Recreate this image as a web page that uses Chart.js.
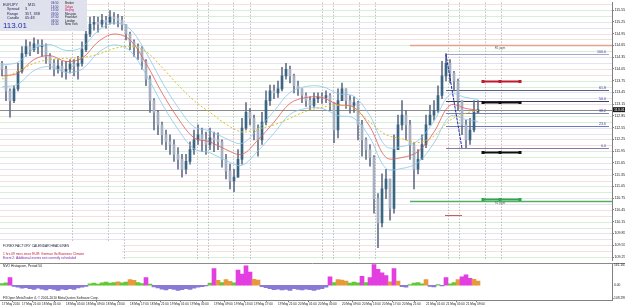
<!DOCTYPE html>
<html>
<head>
<meta charset="utf-8">
<script src="https://cdn.jsdelivr.net/npm/chart.js@4.4.1/dist/chart.umd.min.js"></script>
<style>
html, body { margin: 0; padding: 0; background: #fff; }
#wrap { position: relative; width: 625px; height: 306px; overflow: hidden; }
canvas { position: absolute; left: 0; }
#priceCanvas { top: 0; }
#histCanvas { top: 263px; }
</style>
</head>
<body>
<div id="wrap">
  <canvas id="priceCanvas" width="625" height="263"></canvas>
  <canvas id="histCanvas" width="625" height="43"></canvas>
</div>
<script>
// EURJPY M15, 17-21 May 2010 (one slot = 45 min)
const slotCount = 153;
const firstOpen = 114.19;
const closes = [
  114.04,113.49,113.24,113.54,113.99,114.44,114.62,114.54,114.69,114.62,
  114.64,114.37,114.19,114.04,114.12,113.99,114.04,114.17,114.12,114.19,
  114.54,114.94,115.19,115.24,115.19,115.29,115.24,115.37,115.34,115.29,
  115.19,114.94,114.74,114.62,114.59,114.24,113.79,113.24,112.94,112.62,
  112.37,112.19,112.12,111.87,111.74,111.49,111.69,111.99,112.24,112.37,
  112.24,112.12,112.29,112.24,112.19,111.74,111.44,111.19,111.29,111.74,
  112.54,112.94,112.79,112.49,112.24,112.69,113.24,113.49,113.44,113.54,
  113.87,114.04,113.87,113.62,113.54,113.37,113.24,113.12,113.29,113.34,
  113.32,113.37,113.19,112.49,113.24,113.54,113.24,113.12,113.19,112.62,
  112.24,111.99,111.79,110.74,110.12,110.99,111.24,110.49,111.99,112.62,
  112.87,112.62,112.12,111.49,111.74,112.12,112.62,112.87,112.99,113.37,
  113.87,114.19,113.94,113.74,113.24,112.62,112.24,112.49,112.94,113.01
];
const highs = [
  114.24,114.12,113.54,113.62,114.19,114.62,114.79,114.74,114.84,114.79,
  114.79,114.69,114.44,114.29,114.29,114.24,114.24,114.29,114.29,114.37,
  114.74,115.19,115.37,115.39,115.37,115.44,115.39,115.54,115.49,115.44,
  115.39,115.19,114.99,114.79,114.69,114.62,114.29,113.87,113.29,112.99,
  112.69,112.49,112.37,112.24,112.04,111.87,111.87,112.19,112.49,112.62,
  112.54,112.44,112.54,112.44,112.42,112.24,111.87,111.62,111.49,111.99,
  112.79,113.19,113.04,112.87,112.62,112.94,113.49,113.64,113.64,113.74,
  114.09,114.19,114.12,113.92,113.74,113.54,113.44,113.34,113.44,113.44,
  113.44,113.49,113.42,113.19,113.54,113.69,113.54,113.37,113.34,113.22,
  112.74,112.29,112.12,111.84,110.87,111.37,111.49,111.24,112.37,112.87,
  113.24,112.99,112.74,112.17,111.99,112.37,112.87,113.12,113.24,113.62,
  114.24,114.44,114.29,113.99,113.79,113.24,112.74,112.79,113.24,113.24
];
const lows = [
  113.87,113.24,112.82,113.19,113.49,113.94,114.37,114.39,114.49,114.44,
  114.37,114.19,114.04,113.87,113.94,113.84,113.79,113.94,113.87,113.79,
  114.12,114.49,114.87,115.04,114.99,115.12,115.09,115.19,115.19,115.12,
  115.04,114.79,114.54,114.37,114.29,114.04,113.62,112.94,112.49,112.37,
  112.12,111.99,111.87,111.69,111.49,111.29,111.37,111.62,111.87,112.12,
  111.94,111.87,111.99,111.94,111.99,111.54,111.24,110.99,110.92,111.29,
  111.62,112.49,112.62,112.24,111.82,112.12,112.62,113.12,113.29,113.32,
  113.49,113.79,113.69,113.44,113.37,113.19,113.09,112.99,113.07,113.19,
  113.17,113.19,112.99,112.17,112.29,113.24,113.04,112.92,112.94,112.24,
  111.82,111.74,111.57,110.37,109.49,110.02,110.74,110.19,110.37,111.99,
  112.49,112.24,111.74,110.99,111.37,111.74,112.04,112.62,112.74,112.94,
  113.29,113.74,113.69,113.49,112.99,112.37,112.04,112.12,112.44,112.94
];

// moving averages, read every 4th slot
const maIdx   = [0,4,8,12,16,20,24,28,32,36,40,44,48,52,56,60,64,68,72,76,80,84,88,92,96,100,104,108,112,116,119];
const maRed   = [113.87,113.94,114.29,114.39,114.24,114.32,114.74,114.94,114.79,114.19,113.44,112.79,112.29,112.19,111.99,111.87,112.24,112.69,113.17,113.32,113.32,113.14,113.07,112.57,111.79,111.79,111.94,112.44,113.12,113.04,112.99];
const maUpper = [114.15,114.22,114.57,114.67,114.52,114.60,115.02,115.22,115.07,114.47,113.72,113.07,112.57,112.47,112.27,112.15,112.52,112.97,113.45,113.60,113.60,113.42,113.35,112.85,112.07,112.07,112.22,112.72,113.40,113.32,113.27];
const maLower = [113.59,113.66,114.01,114.11,113.96,114.04,114.46,114.66,114.51,113.91,113.16,112.51,112.01,111.91,111.71,111.59,111.96,112.41,112.89,113.04,113.04,112.86,112.79,112.29,111.51,111.51,111.66,112.16,112.84,112.76,112.71];
const maSlow  = [113.79,113.99,114.19,114.29,114.32,114.34,114.42,114.57,114.62,114.49,114.09,113.64,113.24,112.94,112.64,112.44,112.52,112.62,112.79,112.97,113.07,113.12,113.04,112.69,112.37,112.27,112.17,112.34,112.74,112.92,112.99];

const nvo = [
  12,18,55,-8,-15,-22,-18,-25,-30,-22,
  -28,-35,-25,-30,-38,-28,-32,-25,-30,-20,
  -15,-8,10,15,8,18,22,15,20,25,
  18,22,40,35,20,12,55,8,-12,-20,
  -28,-35,-25,-30,-38,-32,-25,-30,-22,-15,
  -10,-5,15,120,35,20,40,28,18,110,
  80,140,95,42,38,-10,-18,-25,-32,-28,
  -35,-30,-38,-25,-30,-35,-28,-32,-38,-30,
  -25,-15,60,20,40,38,30,15,22,18,
  65,20,55,150,115,90,70,25,120,30,
  -10,-15,5,15,20,10,40,-8,-12,5,
  -6,55,10,20,40,60,75,50,42,30
];
const nvoMax = 161.163;
const nvoMin = -109.298;

const priceTicks = [115.55,115.25,114.95,114.65,114.35,114.05,113.75,113.45,113.15,112.85,112.55,
  112.25,111.95,111.65,111.35,111.05,110.75,110.45,110.15,109.85,109.55,109.25];
const timeIdx = [0,5,10,16,21,26,32,37,42,47,53,58,63,69,74,79,85,90,95,100,106,111,116];
const timeText = ['17 May 2010','17 May 21:00','18 May 01:00','18 May 05:00','18 May 09:00','18 May 13:00',
  '18 May 17:00','18 May 21:00','19 May 01:00','19 May 05:00','19 May 09:00','19 May 13:00','19 May 17:00',
  '19 May 21:00','20 May 01:00','20 May 05:00','20 May 09:00','20 May 13:00','20 May 17:00','20 May 21:00',
  '21 May 01:00','21 May 05:00','21 May 09:00'];

const sessionIdx = [17.5,26.5,30.5,48.75,51.5,57.75,62,80,82.75,89.25,93.25,111.5,114.25,120.75,124.75];
const bidPrice = 113.01;
const fibLevels = [0, 23.6, 38.2, 50, 61.8, 100];
const fibLow = 112.02, fibHigh = 114.42;
const fibHighIdx = 111, fibLowIdx = 115;
const pivotHigh = 114.665, pivotLow = 110.69, pivotFromIdx = 102;
const markerRows = [113.74, 113.20, 111.93, 110.74];
const markerIdx = [120.25, 124.5, 129.5];
const shortLevel = 110.32;

const infoLeft = [['EURJPY', 'M15'], ['Spread', '3'], ['Range', '357, 338'], ['Candle', '05:48']];
const clockTimes = ['06:50','14:50','13:50','09:50','07:50','06:50','01:50'];
const clockCities = ['Broker','Tokyo','Beijing','Moscow','Frankfurt','London','New York'];
const ffLines = ['FOREX FACTORY CALENDAR HEADLINES',
  '1 hrs 09 mins since EUR: German Ifo Business Climate',
  'Event 2: Additional events not currently scheduled'];

// ---------------------------------------------------------------
const FONT = "'Liberation Sans', Arial, sans-serif";
const slots = Array.from({length: slotCount}, (_, i) => '');
const timeSlots = slots.map((s, i) => {
  const k = timeIdx.indexOf(i);
  return k >= 0 ? timeText[k] : '';
});
const opens = closes.map((c, i) => i === 0 ? firstOpen : closes[i - 1]);
const wicks = closes.map((c, i) => [lows[i], highs[i]]);
const bodies = closes.map((c, i) => [Math.min(opens[i], c), Math.max(opens[i], c)]);

function spread(vals) {
  const out = new Array(closes.length).fill(null);
  maIdx.forEach((i, k) => { out[i] = vals[k]; });
  return out;
}
function maLine(vals, color, width, dash) {
  return { type: 'line', data: spread(vals), borderColor: color, borderWidth: width,
    borderDash: dash || [], pointRadius: 0, spanGaps: true, tension: 0.35, order: 0 };
}
function text(ctx, s, x, y, size, color, align, base, weight) {
  ctx.font = (weight || '') + ' ' + size + 'px ' + FONT;
  ctx.fillStyle = color;
  ctx.textAlign = align || 'left';
  ctx.textBaseline = base || 'middle';
  ctx.fillText(s, x, y);
}
function line(ctx, x1, y1, x2, y2, color, w, dash) {
  ctx.strokeStyle = color;
  ctx.lineWidth = w;
  ctx.setLineDash(dash || []);
  ctx.beginPath(); ctx.moveTo(x1, y1); ctx.lineTo(x2, y2); ctx.stroke();
  ctx.setLineDash([]);
}

const guideColors = ['#d9eed9', '#f5e0e0', '#e3e3f3'];
const gridLevels = priceTicks.flatMap(v => [v, v + 0.15]);

const priceOverlay = {
  id: 'priceOverlay',
  beforeDatasetsDraw(chart) {
    const { ctx, chartArea: a } = chart;
    const xs = chart.scales.x, ys = chart.scales.y;
    ctx.save();
    gridLevels.forEach((v, k) => {
      const y = Math.round(ys.getPixelForValue(v)) + 0.5;
      line(ctx, a.left, y, a.right, y, guideColors[k % 3], 1);
    });
    sessionIdx.forEach(i => {
      const x = Math.round(xs.getPixelForValue(i)) + 0.5;
      line(ctx, x, a.top, x, a.bottom, '#a4a4a4', 1, [1, 2]);
    });
    // pivot lines
    const px0 = xs.getPixelForValue(pivotFromIdx);
    let y = Math.round(ys.getPixelForValue(pivotHigh)) + 0.5;
    line(ctx, px0, y, a.right, y, '#e6a38c', 1.5);
    y = Math.round(ys.getPixelForValue(pivotLow)) + 0.5;
    line(ctx, px0, y, a.right, y, '#4fb062', 1.5);
    // fibonacci levels
    const fx = xs.getPixelForValue(fibHighIdx);
    const fibColors = ['#8a7aa8', '#6f78c0', '#7d82b4', '#3c3f5c', '#5c6284', '#a3a8cf'];
    fibLevels.forEach((lv, k) => {
      const p = fibLow + (fibHigh - fibLow) * lv / 100;
      const fy = Math.round(ys.getPixelForValue(p)) + 0.5;
      line(ctx, fx, fy, a.right - 3, fy, fibColors[k], 1);
    });
    // bid line
    y = Math.round(ys.getPixelForValue(bidPrice)) + 0.5;
    line(ctx, a.left, y, a.right, y, '#8c8c8c', 1);
    ctx.restore();
  },
  afterDatasetsDraw(chart) {
    const { ctx, chartArea: a } = chart;
    const xs = chart.scales.x, ys = chart.scales.y;
    ctx.save();
    // fib anchor line
    line(ctx, xs.getPixelForValue(fibHighIdx), ys.getPixelForValue(fibHigh),
      xs.getPixelForValue(fibLowIdx), ys.getPixelForValue(fibLow), '#1f2a9a', 1, [3, 1]);
    fibLevels.forEach(lv => {
      const p = fibLow + (fibHigh - fibLow) * lv / 100;
      text(ctx, lv.toFixed(1), a.right - 6, ys.getPixelForValue(p) - 2, 3.6, '#3a3aa0', 'right', 'middle');
    });
    // trade rows with markers
    const rowColors = ['#c0182c', '#101010', '#101010', '#2fa64a'];
    markerRows.forEach((p, k) => {
      const ry = Math.round(ys.getPixelForValue(p)) + 0.5;
      const x1 = xs.getPixelForValue(markerIdx[0]), x2 = xs.getPixelForValue(markerIdx[2]);
      line(ctx, x1, ry, x2, ry, rowColors[k], 2);
      ctx.fillStyle = rowColors[k];
      markerIdx.forEach(mi => {
        const mx = xs.getPixelForValue(mi);
        ctx.fillRect(mx - 1.5, ry - 1.5, 3, 3);
      });
    });
    // short red level
    const sy = Math.round(ys.getPixelForValue(shortLevel)) + 0.5;
    line(ctx, xs.getPixelForValue(110.75), sy, xs.getPixelForValue(115), sy, '#b86464', 1);
    // small notes on pivot lines
    const nx = xs.getPixelForValue(124.5);
    text(ctx, 'R1 pgm', nx, ys.getPixelForValue(pivotHigh) + 3, 3, '#606060', 'center', 'middle');
    text(ctx, 'S1 pgm', nx, ys.getPixelForValue(pivotLow) + 3, 3, '#606060', 'center', 'middle');

    // info panel
    ctx.fillStyle = '#dfe1ec';
    ctx.fillRect(0, 0, 87, 31);
    infoLeft.forEach((r, k) => {
      const ty = 4.5 + k * 4.5;
      text(ctx, r[0], k === 0 ? 3 : 7, ty, 3.8, '#1d2350');
      text(ctx, r[1], k === 0 ? 28 : 25, ty, 3.8, '#1d2350');
    });
    text(ctx, bidPrice.toFixed(2), 3, 25.5, 8, '#1f2fa8');
    const cityColors = ['#202020', '#d02020', '#d0209a', '#202020', '#202020', '#202020', '#202020'];
    clockTimes.forEach((t, k) => {
      const ty = 3.3 + k * 3.5;
      text(ctx, t, 51, ty, 3, '#2a2a8a');
      text(ctx, clockCities[k], 65, ty, 3, cityColors[k]);
    });

    // calendar headlines box
    ctx.fillStyle = '#ffffff';
    ctx.fillRect(0, 241, 122, 21);
    text(ctx, ffLines[0], 3, 246.5, 3.3, '#202040');
    text(ctx, ffLines[1], 3, 253.8, 3.3, '#c0203a');
    text(ctx, ffLines[2], 3, 258.3, 3.3, '#7a2a9a');

    // bid price box on the axis
    const by = ys.getPixelForValue(bidPrice);
    ctx.fillStyle = '#1a1a1a';
    ctx.fillRect(a.right + 1, by - 2.5, 12, 5);
    text(ctx, bidPrice.toFixed(2), a.right + 2, by, 3.6, '#ffffff');
    ctx.restore();
  }
};

new Chart(document.getElementById('priceCanvas'), {
  type: 'bar',
  data: {
    labels: slots,
    datasets: [
      maLine(maSlow, '#d9c01c', 1, [2, 2]),
      maLine(maUpper, '#8cc6ea', 0.8),
      maLine(maLower, '#8cc6ea', 0.8),
      maLine(maRed, '#e05a5a', 0.8),
      { data: wicks, backgroundColor: '#66718a', barThickness: 1, grouped: false, order: 2 },
      { data: bodies, backgroundColor: ctx => {
          const i = ctx.dataIndex;
          return closes[i] >= opens[i] ? '#3a6684' : '#a7b0c0';
        }, barThickness: 2, minBarLength: 1, grouped: false, order: 1 }
    ]
  },
  options: {
    responsive: false,
    animation: false,
    events: [],
    layout: { padding: 0 },
    plugins: { legend: { display: false }, tooltip: { enabled: false } },
    scales: {
      x: { display: false, offset: true },
      y: {
        position: 'right',
        min: 109.165, max: 115.74,
        afterBuildTicks: s => { s.ticks = priceTicks.map(v => ({ value: v })); },
        afterFit: s => { s.width = 13; },
        grid: { drawOnChartArea: false, tickLength: 2, color: '#808080' },
        border: { color: '#808080' },
        ticks: { padding: 0.5, color: '#202020', font: { size: 3.6, family: FONT },
          callback: v => v.toFixed(2) }
      }
    }
  },
  plugins: [priceOverlay]
});

const histOverlay = {
  id: 'histOverlay',
  afterDatasetsDraw(chart) {
    const { ctx, chartArea: a } = chart;
    const ys = chart.scales.y;
    ctx.save();
    line(ctx, 0, 0.5, chart.width, 0.5, '#8a8a8a', 1);
    text(ctx, 'NVO Histogram, Period 50', 3, 3.5, 3.3, '#202020');
    text(ctx, nvoMax.toFixed(3), a.right + 2, 2.5, 3.3, '#202020');
    text(ctx, '0.00', a.right + 2, ys.getPixelForValue(0), 3.3, '#202020');
    text(ctx, nvoMin.toFixed(3), a.right + 1, a.bottom - 2, 3.3, '#202020');
    text(ctx, 'FXOpen MetaTrader 4, \u00a9 2001-2010 MetaQuotes Software Corp.', 3, a.bottom - 2, 3.3, '#202020');
    ctx.restore();
  }
};

new Chart(document.getElementById('histCanvas'), {
  type: 'bar',
  data: {
    labels: timeSlots,
    datasets: [{
      data: nvo,
      backgroundColor: ctx => {
        const v = ctx.raw;
        if (v < 0) return '#8a7ad6';
        if (v < 25) return '#62c836';
        if (v < 45) return '#e69a3c';
        return '#e23ee0';
      },
      barPercentage: 1, categoryPercentage: 1
    }]
  },
  options: {
    responsive: false,
    animation: false,
    events: [],
    layout: { padding: 0 },
    plugins: { legend: { display: false }, tooltip: { enabled: false } },
    scales: {
      x: {
        offset: true,
        afterBuildTicks: s => { s.ticks = timeIdx.map(v => ({ value: v })); },
        grid: { drawOnChartArea: false, tickLength: 2, color: '#808080' },
        border: { color: '#808080' },
        ticks: { autoSkip: false, maxRotation: 0, minRotation: 0, align: 'start', padding: 0,
          color: '#202020', font: { size: 3.1, family: FONT } }
      },
      y: {
        position: 'right',
        min: nvoMin, max: nvoMax,
        afterFit: s => { s.width = 13; },
        grid: { display: false },
        border: { color: '#808080' },
        ticks: { display: false }
      }
    }
  },
  plugins: [histOverlay]
});
</script>
</body>
</html>
